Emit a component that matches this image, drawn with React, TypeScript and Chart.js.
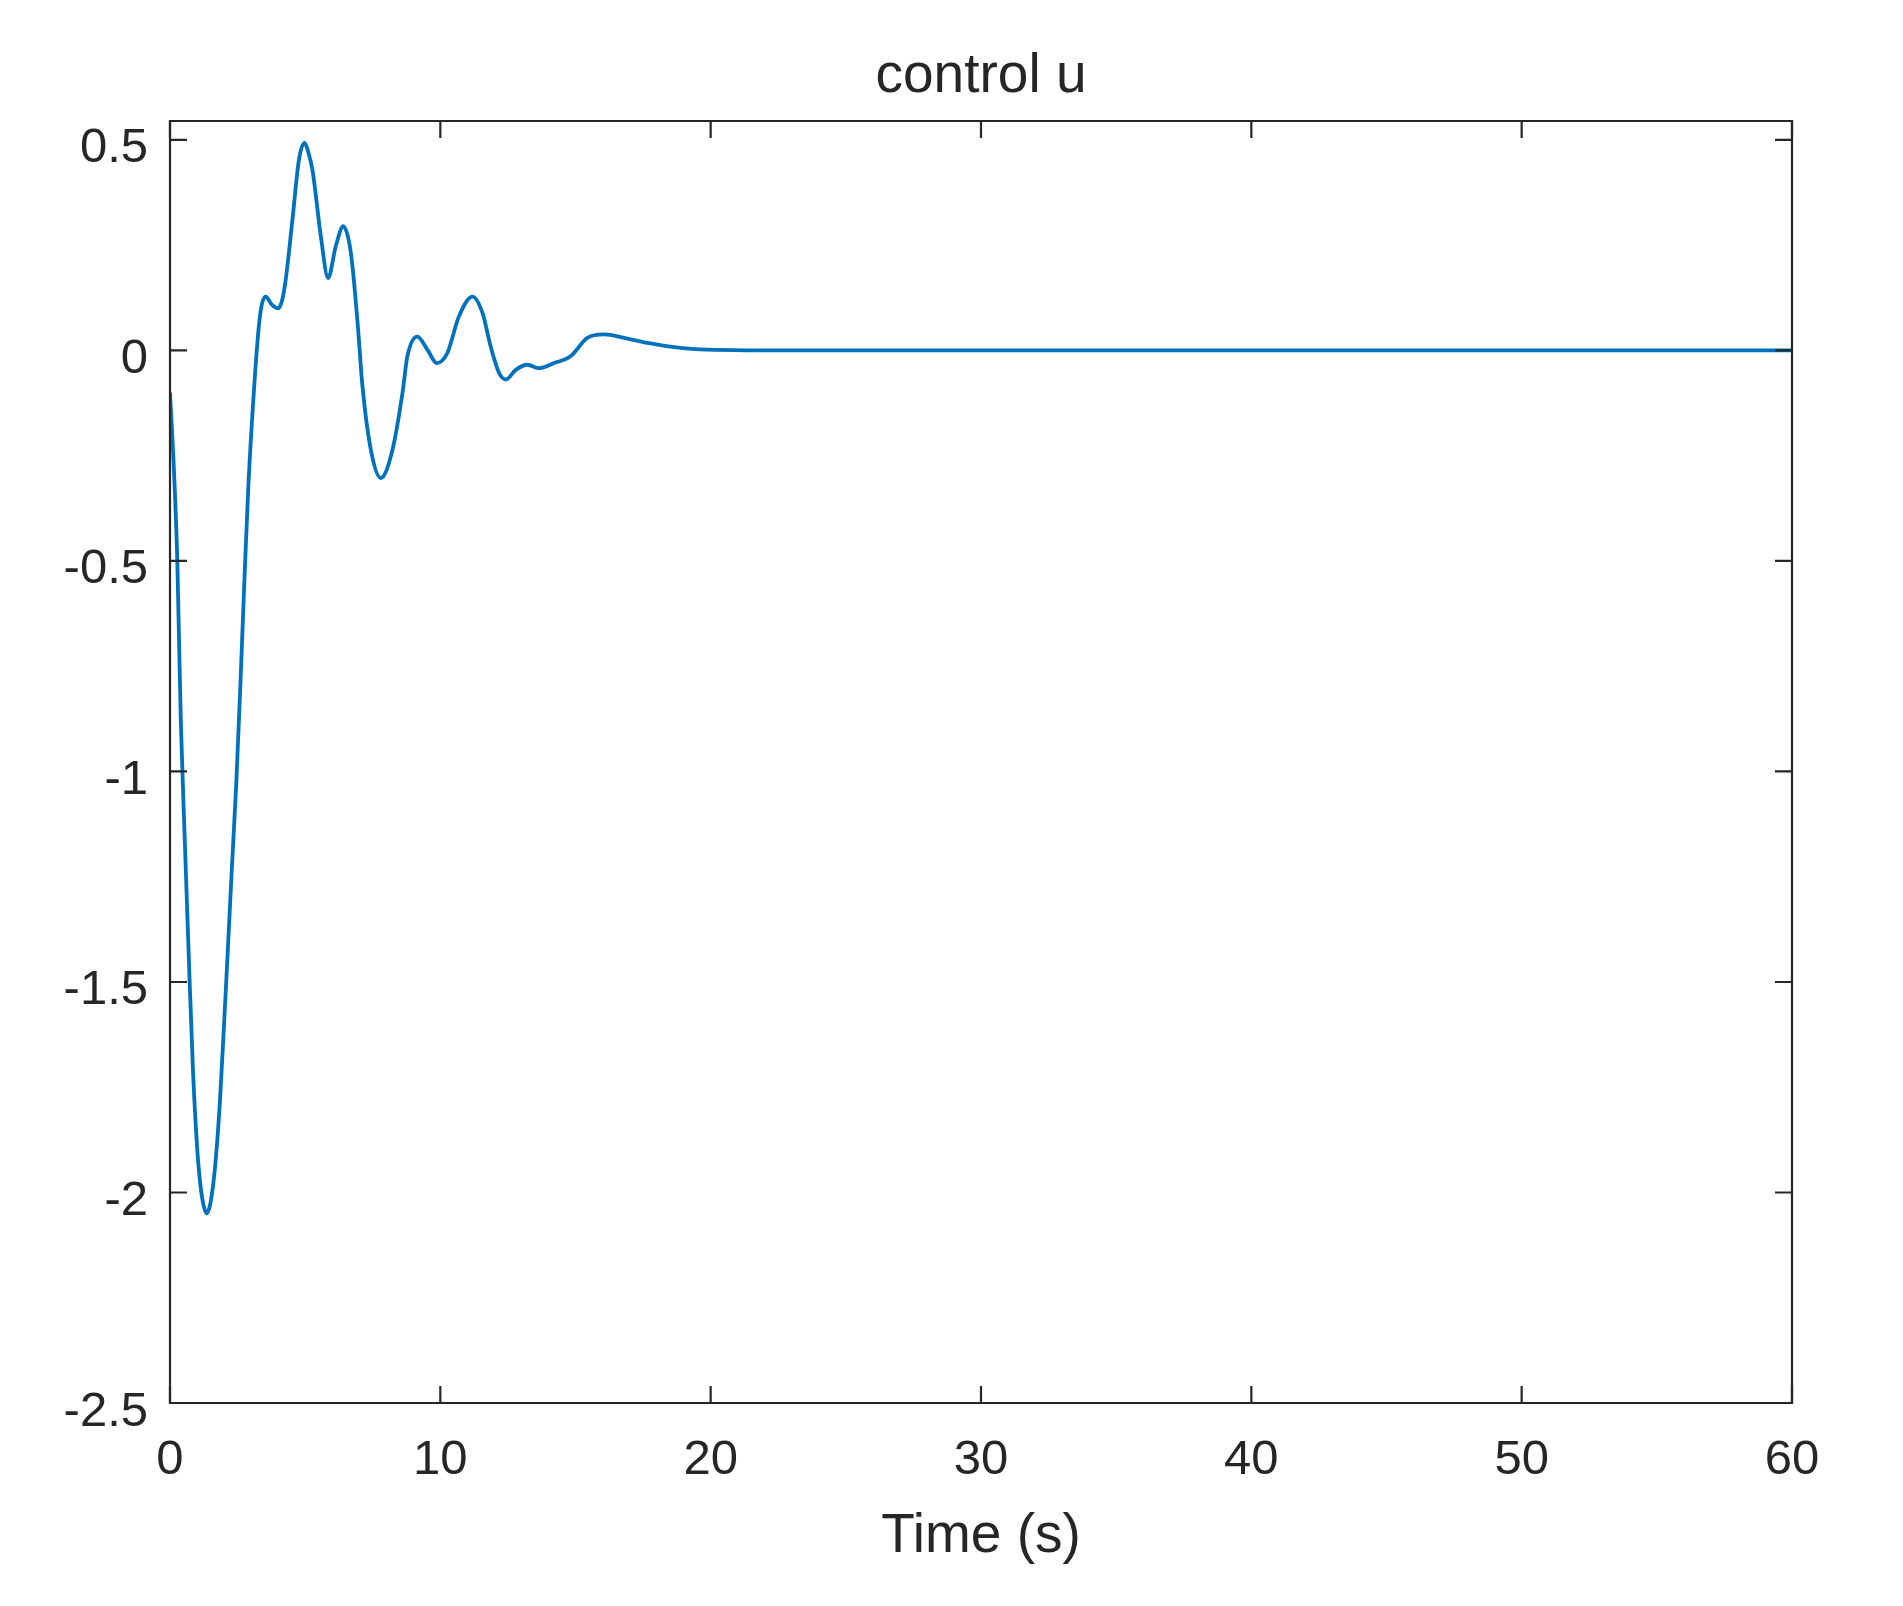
import React, { useEffect, useRef } from "react";
import { Chart, registerables } from "chart.js";

Chart.register(...registerables);

const TIME_S: number[] = [
  0.0, 0.15, 0.27, 0.4, 0.55, 0.7, 0.85, 1.0, 1.12, 1.24, 1.36, 1.48, 1.6, 1.72, 1.85, 2.0, 2.15,
  2.28, 2.45, 2.6, 2.75, 2.9, 3.11, 3.29, 3.4, 3.54, 3.75, 4.0, 4.15, 4.28, 4.53, 4.77, 4.98, 5.12,
  5.27, 5.58, 5.85, 6.13, 6.41, 6.69, 6.93, 7.12, 7.43, 7.8, 8.23, 8.6, 8.78, 9.15, 9.52, 9.87,
  10.26, 10.69, 11.19, 11.56, 11.86, 12.17, 12.42, 12.79, 13.22, 13.65, 14.21, 14.82, 15.44, 16.06,
  16.8, 17.66, 18.65, 19.88, 23.3, 60,
];

const CONTROL_U: number[] = [
  -0.1, -0.29, -0.5, -0.88, -1.17, -1.45, -1.71, -1.89, -1.98, -2.03, -2.05, -2.03, -1.98, -1.9,
  -1.78, -1.6, -1.41, -1.24, -1.03, -0.8, -0.55, -0.32, -0.09, 0.06, 0.11, 0.128, 0.11, 0.1, 0.12,
  0.168, 0.311, 0.453, 0.493, 0.47, 0.429, 0.271, 0.172, 0.247, 0.295, 0.232, 0.073, -0.085,
  -0.236, -0.303, -0.236, -0.101, -0.014, 0.033, 0.002, -0.03, -0.006, 0.081, 0.128, 0.089, 0.01,
  -0.053, -0.069, -0.046, -0.034, -0.042, -0.03, -0.014, 0.03, 0.038, 0.03, 0.018, 0.008, 0.002, 0,
  0,
];

const X_TICKS: number[] = [0, 10, 20, 30, 40, 50, 60];
const Y_TICKS: number[] = [-2.5, -2, -1.5, -1, -0.5, 0, 0.5];

const TITLE = "control u";
const X_LABEL = "Time (s)";

const INK = "#262626";
const LINE = "#0072BD";
const FONT = "'Liberation Sans', Arial, Helvetica, sans-serif";

const boxPlugin = {
  id: "matlabBox",
  afterDraw(chart: any) {
    const { ctx, chartArea } = chart;
    const { left, right, top, bottom } = chartArea;
    const xs = chart.scales.x;
    const ys = chart.scales.y;
    const tl = 17;
    ctx.save();
    ctx.strokeStyle = INK;
    ctx.lineWidth = 2.2;
    ctx.beginPath();
    ctx.rect(left, top, right - left, bottom - top);
    ctx.stroke();
    ctx.beginPath();
    X_TICKS.forEach((v) => {
      const px = xs.getPixelForValue(v);
      ctx.moveTo(px, bottom);
      ctx.lineTo(px, bottom - tl);
      ctx.moveTo(px, top);
      ctx.lineTo(px, top + tl);
    });
    Y_TICKS.forEach((v) => {
      const py = ys.getPixelForValue(v);
      ctx.moveTo(left, py);
      ctx.lineTo(left + tl, py);
      ctx.moveTo(right, py);
      ctx.lineTo(right - tl, py);
    });
    ctx.stroke();
    ctx.restore();
  },
};

export default function App() {
  const ref = useRef<HTMLCanvasElement | null>(null);

  useEffect(() => {
    if (!ref.current) return;
    const chart = new Chart(ref.current, {
      type: "line",
      data: {
        datasets: [
          {
            data: TIME_S.map((t, i) => ({ x: t, y: CONTROL_U[i] })),
            borderColor: LINE,
            borderWidth: 3.8,
            pointRadius: 0,
            fill: false,
            cubicInterpolationMode: "monotone",
          },
        ],
      },
      options: {
        animation: false,
        responsive: false,
        layout: { padding: { left: 0, right: 111, top: 0, bottom: 0 } },
        plugins: {
          legend: { display: false },
          tooltip: { enabled: false },
          title: {
            display: true,
            text: TITLE,
            color: INK,
            fullSize: false,
            font: { family: FONT, size: 55, weight: "normal", lineHeight: 1.2 },
            padding: { top: 44, bottom: 11 },
          },
        },
        scales: {
          x: {
            type: "linear",
            min: 0,
            max: 60,
            afterBuildTicks: (s: any) => {
              s.ticks = X_TICKS.map((v) => ({ value: v }));
            },
            afterFit: (s: any) => {
              s.height = 203;
            },
            grid: { display: false, drawTicks: false },
            border: { display: false },
            ticks: {
              color: INK,
              padding: 28,
              maxRotation: 0,
              font: { family: FONT, size: 49, lineHeight: 1.2 },
              callback: (v: any) => String(v),
            },
            title: {
              display: true,
              text: X_LABEL,
              color: INK,
              font: { family: FONT, size: 55, lineHeight: 1.2 },
              padding: { top: 0, bottom: 36 },
            },
          },
          y: {
            type: "linear",
            min: -2.5,
            max: 0.545,
            afterBuildTicks: (s: any) => {
              s.ticks = Y_TICKS.map((v) => ({ value: v }));
            },
            afterFit: (s: any) => {
              s.width = 170;
            },
            grid: { display: false, drawTicks: false },
            border: { display: false },
            ticks: {
              color: INK,
              padding: 22,
              labelOffset: 9,
              font: { family: FONT, size: 49, lineHeight: 1.2 },
              callback: (v: any) => String(v),
            },
          },
        },
      },
      plugins: [boxPlugin],
    });
    return () => chart.destroy();
  }, []);

  return (
    <div style={{ position: "absolute", left: 0, top: 0, width: 1903, height: 1606, background: "#fff" }}>
      <canvas ref={ref} width={1903} height={1606} />
    </div>
  );
}
